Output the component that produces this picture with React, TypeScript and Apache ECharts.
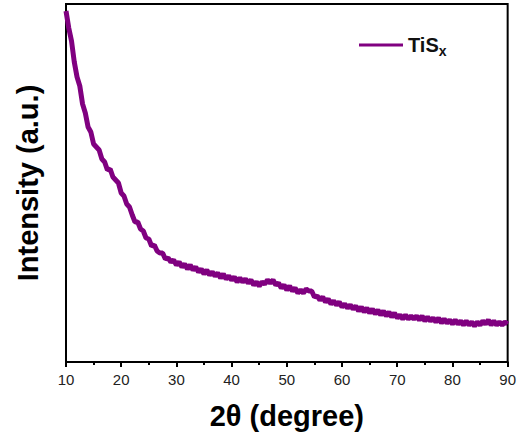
import React, { useEffect, useRef } from "react";
import * as echarts from "echarts";

// 2θ positions (degrees), every 0.5°
const twoTheta: number[] = [];
for (let i = 0; i <= 160; i++) twoTheta.push(10 + i * 0.5);

// Intensity (a.u.), one per 2θ position
const intensity: number[] = [
  351, 334, 321, 300, 285, 276, 258, 249, 235, 230,
  218, 215, 212, 203, 200, 192, 193, 185, 182, 179,
  169, 166, 158, 155, 147, 140, 140, 133, 131, 124,
  123, 116, 117, 111, 109, 109, 103, 104, 100, 102,
  97, 100, 95, 98, 93, 97, 92, 95, 90, 93,
  88, 92, 87, 90, 86, 89, 84, 88, 83, 86,
  82, 85, 80, 84, 80, 83, 79, 82, 77, 80,
  76, 80, 78, 82, 79, 82, 77, 79, 74, 77,
  72, 76, 71, 74, 69, 72, 69, 73, 71, 71,
  65, 66, 62, 65, 60, 63, 58, 61, 57, 60,
  55, 58, 54, 57, 53, 56, 51, 55, 50, 54,
  49, 53, 48, 52, 47, 51, 46, 50, 45, 49,
  44, 47, 43, 47, 43, 46, 43, 46, 42, 46,
  41, 45, 41, 44, 40, 44, 39, 43, 39, 42,
  38, 42, 38, 41, 37, 41, 37, 40, 36, 40,
  37, 41, 38, 42, 37, 41, 37, 40, 37, 40,
  38,
];

const xTicks: number[] = [10, 20, 30, 40, 50, 60, 70, 80, 90];
const seriesName = "TiSx";
const FONT = "Liberation Sans, Arial, sans-serif";

export default function App() {
  const ref = useRef<HTMLDivElement>(null);
  useEffect(() => {
    if (!ref.current) return;
    const chart = echarts.init(ref.current, undefined, { renderer: "svg" });
    const data = twoTheta.map((t, i) => [t, intensity[i]]);
    chart.setOption({
      animation: false,
      backgroundColor: "#ffffff",
      grid: {
        left: 66,
        right: 9,
        top: 4,
        bottom: 78,
        show: true,
        borderColor: "#000",
        borderWidth: 2,
        backgroundColor: "transparent",
      },
      legend: {
        show: true,
        left: 359,
        top: 35,
        padding: 0,
        itemWidth: 44,
        itemHeight: 3,
        icon: "rect",
        formatter: () => "{a|TiS}{b|x}",
        textStyle: {
          rich: {
            a: {
              fontFamily: FONT,
              fontSize: 20,
              fontWeight: "bold",
              color: "#111",
            },
            b: {
              fontFamily: FONT,
              fontSize: 14,
              fontWeight: "bold",
              color: "#111",
              padding: [12, 0, 0, 0],
            },
          },
        },
        data: [seriesName],
      },
      xAxis: {
        type: "value",
        min: xTicks[0],
        max: xTicks[xTicks.length - 1],
        interval: 10,
        name: "2θ (degree)",
        nameLocation: "middle",
        nameGap: 39,
        nameTextStyle: {
          fontFamily: FONT,
          fontSize: 29,
          fontWeight: "bold",
          color: "#000",
        },
        axisLine: { show: true, lineStyle: { color: "#000", width: 2 } },
        axisTick: { show: true, inside: false, length: 5, lineStyle: { color: "#000", width: 2 } },
        minorTick: { show: true, splitNumber: 2, length: 3, lineStyle: { color: "#000", width: 2 } },
        splitLine: { show: false },
        axisLabel: {
          fontFamily: FONT,
          fontSize: 15,
          color: "#222",
          margin: 10,
        },
      },
      yAxis: {
        type: "value",
        min: 0,
        max: 358,
        name: "Intensity (a.u.)",
        nameLocation: "middle",
        nameGap: 24,
        nameTextStyle: {
          fontFamily: FONT,
          fontSize: 29,
          fontWeight: "bold",
          color: "#000",
        },
        axisLine: { show: true, lineStyle: { color: "#000", width: 2 } },
        axisTick: { show: false },
        axisLabel: { show: false },
        splitLine: { show: false },
      },
      series: [
        {
          name: seriesName,
          type: "line",
          data,
          showSymbol: false,
          symbol: "none",
          lineStyle: { color: "#800080", width: 5 },
          itemStyle: { color: "#800080" },
          clip: true,
        },
      ],
    });
    return () => chart.dispose();
  }, []);
  return (
    <div
      ref={ref}
      style={{ position: "fixed", left: 0, top: 0, width: 519, height: 440 }}
    />
  );
}
